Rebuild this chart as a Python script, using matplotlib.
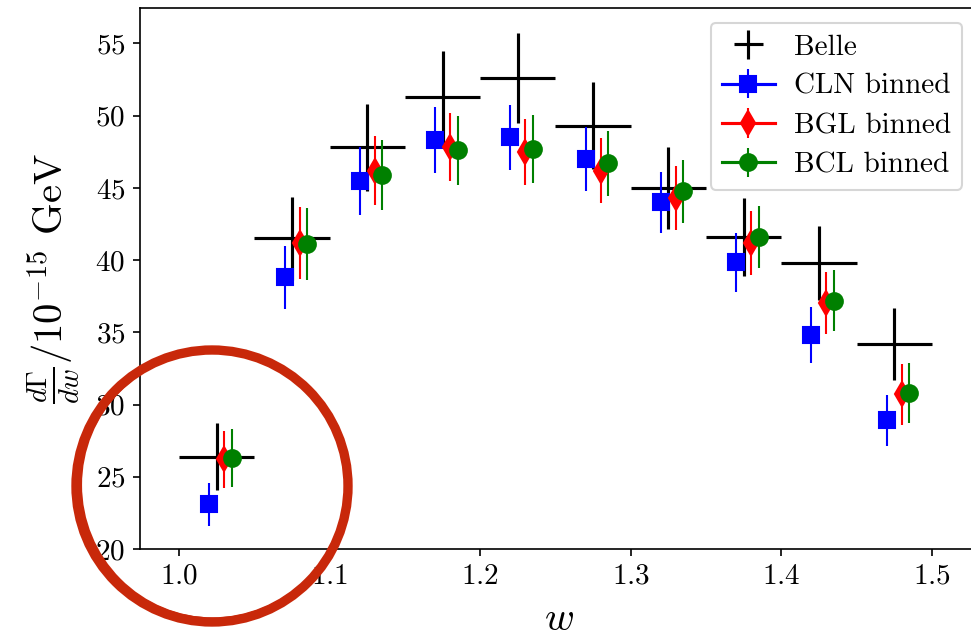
import numpy as np
import matplotlib
matplotlib.use("Agg")
import matplotlib.pyplot as plt
from matplotlib.patches import Ellipse

# ----------------------------------------------------------------
# Data (dGamma/dw in units of 1e-15 GeV)
# ----------------------------------------------------------------
w_bins = [1.025, 1.075, 1.125, 1.175, 1.225, 1.275, 1.325, 1.375, 1.425, 1.475]
w_halfwidth = 0.025

belle     = [26.4, 41.5, 47.8, 51.3, 52.6, 49.3, 45.0, 41.6, 39.8, 34.2]
belle_err = [2.3, 2.9, 3.0, 3.2, 3.1, 3.0, 2.85, 2.7, 2.55, 2.5]

cln     = [23.1, 38.8, 45.5, 48.3, 48.5, 47.0, 44.0, 39.85, 34.8, 28.9]
cln_err = [1.5, 2.2, 2.35, 2.3, 2.25, 2.2, 2.1, 2.05, 1.95, 1.75]

bgl     = [26.2, 41.2, 46.2, 47.8, 47.5, 46.2, 44.3, 41.2, 37.0, 30.7]
bgl_err = [2.0, 2.5, 2.4, 2.35, 2.3, 2.25, 2.2, 2.2, 2.15, 2.1]

bcl     = [26.3, 41.1, 45.9, 47.6, 47.7, 46.7, 44.75, 41.6, 37.2, 30.8]
bcl_err = [2.0, 2.5, 2.42, 2.4, 2.35, 2.25, 2.2, 2.17, 2.1, 2.07]

plt.rcParams["font.family"] = "serif"
plt.rcParams["font.serif"] = ["cmr10"]
plt.rcParams["mathtext.fontset"] = "cm"
plt.rcParams["axes.formatter.use_mathtext"] = True
plt.rcParams["font.size"] = 14

W, H, DPI = 971, 638, 150
fig = plt.figure(figsize=(W / DPI, H / DPI), dpi=DPI)
ax = fig.add_axes([140 / W, 1 - 549 / H, 837 / W, 541 / H])

x = np.array(w_bins)

# Belle data: bin widths as x errors
ax.errorbar(x, belle, xerr=w_halfwidth, yerr=belle_err, fmt="none",
            ecolor="k", elinewidth=1.5, label="Belle")

# binned fits, one call per bin so the legend shows a line
models = [
    (cln, cln_err, -0.005, "bs-", "CLN binned"),
    (bgl, bgl_err, 0.005, "rd-", "BGL binned"),
    (bcl, bcl_err, 0.010, "go-", "BCL binned"),
]
for vals, errs, dx, fmt, lab in models:
    for i in range(len(vals)):
        ax.errorbar(x[i] + dx, vals[i], yerr=errs[i], fmt=fmt,
                    markersize=8, elinewidth=1.0,
                    label=lab if i == 0 else None)

ax.set_xlim(0.974, 1.53)
ax.set_ylim(20, 57.45)
ax.set_xticks([1.0, 1.1, 1.2, 1.3, 1.4, 1.5])
ax.set_yticks([20, 25, 30, 35, 40, 45, 50, 55])
ax.set_xlabel(r"$w$", fontsize=19.5, labelpad=6)
ax.set_ylabel(r"$\frac{d\Gamma}{dw}/10^{-15}$ GeV", fontsize=19.5,
              labelpad=6.5)
ax.legend(loc="upper right", handlelength=1.8, handletextpad=0.65,
          labelspacing=0.44)

# hand-drawn style highlight around the first bin
ring = Ellipse((212 / W, 1 - 486 / H), 272 / W, 272 / H,
               transform=fig.transFigure, fill=False,
               edgecolor="#c8280a", lw=4.5, zorder=10, clip_on=False)
fig.patches.append(ring)
ring2 = Ellipse((213.5 / W, 1 - 485 / H), 266 / W, 268 / H,
                transform=fig.transFigure, fill=False,
                edgecolor="#c8280a", lw=1.5, zorder=10, clip_on=False)
fig.patches.append(ring2)

plt.savefig("out.png", dpi=DPI)
